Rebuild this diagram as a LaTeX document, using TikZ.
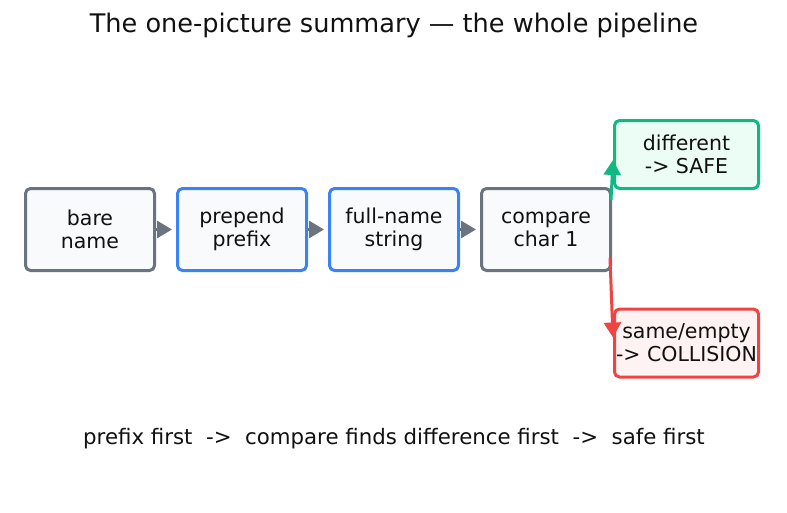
\documentclass[tikz,border=0pt]{standalone}
\usepackage{fontspec}
\setmainfont{DejaVu Sans}
\usetikzlibrary{arrows.meta,calc}
\definecolor{stepgray}{HTML}{6B7280}
\definecolor{stepblue}{HTML}{3B82F6}
\definecolor{safegreen}{HTML}{10B981}
\definecolor{hitred}{HTML}{EF4444}
\definecolor{boxfill}{HTML}{F8FAFC}
\definecolor{safefill}{HTML}{ECFDF5}
\definecolor{hitfill}{HTML}{FEF2F2}
\definecolor{ink}{HTML}{111111}
\begin{document}
\begin{tikzpicture}[x=1pt, y=-1pt,
  every node/.style={font=\fontsize{20.5}{23}\selectfont, text=ink, align=center},
  stepbox/.style={draw=#1, line width=3pt, rounded corners=5pt, fill=boxfill,
    minimum width=129pt, minimum height=82pt, inner sep=0pt},
  endbox/.style={draw=#1, line width=3pt, rounded corners=5pt,
    minimum width=144pt, minimum height=68pt, inner sep=0pt},
  flow/.style={line width=3pt, draw=#1, -{Triangle[length=15pt,width=17pt]}, shorten >=4pt}]
\useasboundingbox (0,0) rectangle (787,512);
\node[font=\fontsize{25.6}{30}\selectfont] (title) at (394,25) {The one-picture summary — the whole pipeline};
\node[stepbox=stepgray] (bare) at (90,229.5) {bare\\name};
\node[stepbox=stepblue] (prep) at (242,229.5) {prepend\\prefix};
\node[stepbox=stepblue] (full) at (394,229.5) {full-name\\string};
\node[stepbox=stepgray] (cmp) at (546,229.5) {compare\\char 1};
\node[endbox=safegreen, fill=safefill] (safe) at (686.5,154.5) {different\\-> SAFE};
\node[endbox=hitred, fill=hitfill] (hit) at (686.5,343) {same/empty\\-> COLLISION};
\draw[flow=stepgray] (bare) -- (prep);
\draw[flow=stepgray] (prep) -- (full);
\draw[flow=stepgray] (full) -- (cmp);
\coordinate (upfrom) at ($(cmp.north east)+(-1,13)$);
\coordinate (upto) at ($(safe.south west)+(0,-30)$);
\coordinate (downfrom) at ($(cmp.south east)+(-2,-14)$);
\coordinate (downto) at ($(hit.north west)+(0,30)$);
\draw[flow=safegreen, shorten >=0pt] (upfrom) -- (upto);
\draw[flow=hitred, shorten >=0pt] (downfrom) -- (downto);
\node[font=\fontsize{21.3}{24}\selectfont] (note) at (394,439) {prefix first\ \ ->\ \ compare finds difference first\ \ ->\ \ safe first};
\end{tikzpicture}
\end{document}
